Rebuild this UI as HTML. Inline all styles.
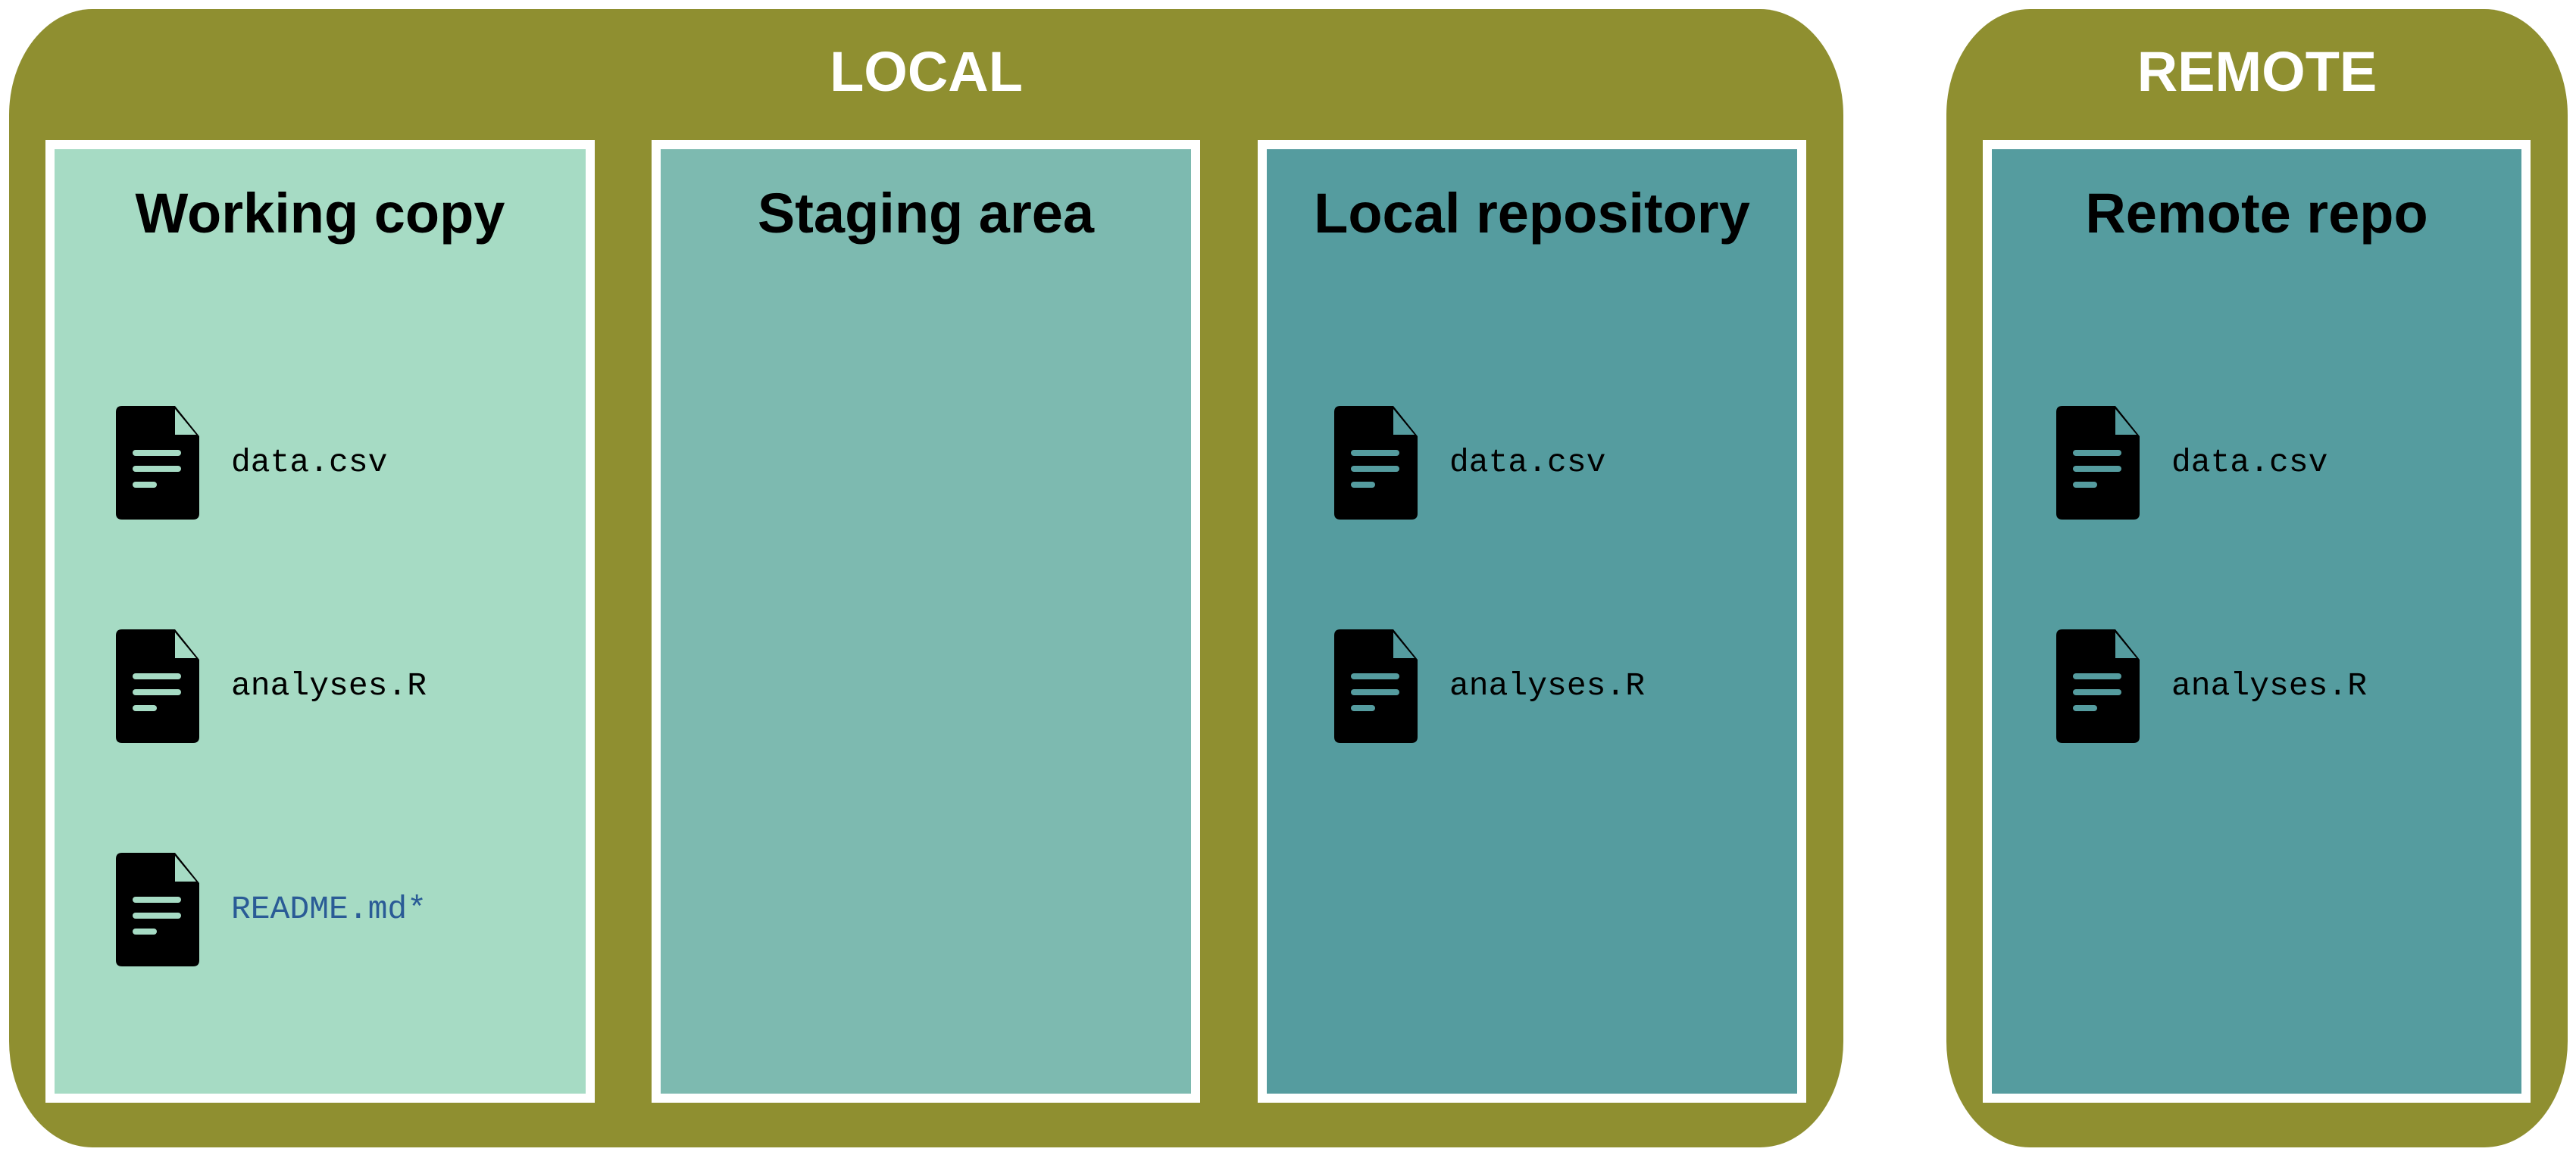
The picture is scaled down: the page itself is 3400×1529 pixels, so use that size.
<!DOCTYPE html>
<html><head><meta charset="utf-8"><style>
html,body{margin:0;padding:0;background:#fff;}
body{width:3400px;height:1529px;position:relative;overflow:hidden;font-family:"Liberation Sans",sans-serif;}
.outer{position:absolute;background:#8f8f30;border-radius:110px/140px;}
.hdr{position:absolute;color:#fff;font-weight:bold;font-size:74px;text-align:center;top:50px;line-height:90px;}
.panel{position:absolute;top:185px;height:1247px;border:12px solid #fff;width:700px;}
.title{position:absolute;top:40px;left:0;right:0;text-align:center;font-weight:bold;font-size:74px;line-height:90px;color:#000;}
.file{position:absolute;}
.file svg{position:absolute;left:0;top:0;}
.file span{position:absolute;left:152px;top:49px;font-family:"Liberation Mono",monospace;font-size:43px;line-height:52px;color:#000;white-space:nowrap;}
</style></head><body>
<div class="outer" style="left:12px;top:12px;width:2421px;height:1503px;"></div>
<div class="outer" style="left:2569px;top:12px;width:820px;height:1503px;"></div>
<div class="hdr" style="left:12px;width:2421px;">LOCAL</div>
<div class="hdr" style="left:2569px;width:820px;">REMOTE</div>

<div class="panel" style="left:60px;width:701px;background:#a6dbc4;">
 <div class="title">Working copy</div>
 <div class="file" style="left:81px;top:339px;"><svg width="112" height="150" viewBox="0 0 112 150"><path d="M8 0H78L110 40V142Q110 150 102 150H8Q0 150 0 142V8Q0 0 8 0Z" fill="#000"/><path d="M78 4V38H106Z" fill="#a6dbc4"/><rect x="22" y="58" width="64" height="8" rx="4" fill="#a6dbc4"/><rect x="22" y="79" width="64" height="8" rx="4" fill="#a6dbc4"/><rect x="22" y="100" width="32" height="8" rx="4" fill="#a6dbc4"/></svg><span>data.csv</span></div>
 <div class="file" style="left:81px;top:634px;"><svg width="112" height="150" viewBox="0 0 112 150"><path d="M8 0H78L110 40V142Q110 150 102 150H8Q0 150 0 142V8Q0 0 8 0Z" fill="#000"/><path d="M78 4V38H106Z" fill="#a6dbc4"/><rect x="22" y="58" width="64" height="8" rx="4" fill="#a6dbc4"/><rect x="22" y="79" width="64" height="8" rx="4" fill="#a6dbc4"/><rect x="22" y="100" width="32" height="8" rx="4" fill="#a6dbc4"/></svg><span>analyses.R</span></div>
 <div class="file" style="left:81px;top:929px;"><svg width="112" height="150" viewBox="0 0 112 150"><path d="M8 0H78L110 40V142Q110 150 102 150H8Q0 150 0 142V8Q0 0 8 0Z" fill="#000"/><path d="M78 4V38H106Z" fill="#a6dbc4"/><rect x="22" y="58" width="64" height="8" rx="4" fill="#a6dbc4"/><rect x="22" y="79" width="64" height="8" rx="4" fill="#a6dbc4"/><rect x="22" y="100" width="32" height="8" rx="4" fill="#a6dbc4"/></svg><span style="color:#2a5b96">README.md*</span></div>
</div>

<div class="panel" style="left:860px;background:#7dbab0;">
 <div class="title">Staging area</div>
</div>

<div class="panel" style="left:1660px;background:#559c9f;">
 <div class="title">Local repository</div>
 <div class="file" style="left:89px;top:339px;"><svg width="112" height="150" viewBox="0 0 112 150"><path d="M8 0H78L110 40V142Q110 150 102 150H8Q0 150 0 142V8Q0 0 8 0Z" fill="#000"/><path d="M78 4V38H106Z" fill="#559c9f"/><rect x="22" y="58" width="64" height="8" rx="4" fill="#559c9f"/><rect x="22" y="79" width="64" height="8" rx="4" fill="#559c9f"/><rect x="22" y="100" width="32" height="8" rx="4" fill="#559c9f"/></svg><span>data.csv</span></div>
 <div class="file" style="left:89px;top:634px;"><svg width="112" height="150" viewBox="0 0 112 150"><path d="M8 0H78L110 40V142Q110 150 102 150H8Q0 150 0 142V8Q0 0 8 0Z" fill="#000"/><path d="M78 4V38H106Z" fill="#559c9f"/><rect x="22" y="58" width="64" height="8" rx="4" fill="#559c9f"/><rect x="22" y="79" width="64" height="8" rx="4" fill="#559c9f"/><rect x="22" y="100" width="32" height="8" rx="4" fill="#559c9f"/></svg><span>analyses.R</span></div>
</div>

<div class="panel" style="left:2617px;width:699px;background:#559c9f;">
 <div class="title">Remote repo</div>
 <div class="file" style="left:85px;top:339px;"><svg width="112" height="150" viewBox="0 0 112 150"><path d="M8 0H78L110 40V142Q110 150 102 150H8Q0 150 0 142V8Q0 0 8 0Z" fill="#000"/><path d="M78 4V38H106Z" fill="#559c9f"/><rect x="22" y="58" width="64" height="8" rx="4" fill="#559c9f"/><rect x="22" y="79" width="64" height="8" rx="4" fill="#559c9f"/><rect x="22" y="100" width="32" height="8" rx="4" fill="#559c9f"/></svg><span>data.csv</span></div>
 <div class="file" style="left:85px;top:634px;"><svg width="112" height="150" viewBox="0 0 112 150"><path d="M8 0H78L110 40V142Q110 150 102 150H8Q0 150 0 142V8Q0 0 8 0Z" fill="#000"/><path d="M78 4V38H106Z" fill="#559c9f"/><rect x="22" y="58" width="64" height="8" rx="4" fill="#559c9f"/><rect x="22" y="79" width="64" height="8" rx="4" fill="#559c9f"/><rect x="22" y="100" width="32" height="8" rx="4" fill="#559c9f"/></svg><span>analyses.R</span></div>
</div>
</body></html>
